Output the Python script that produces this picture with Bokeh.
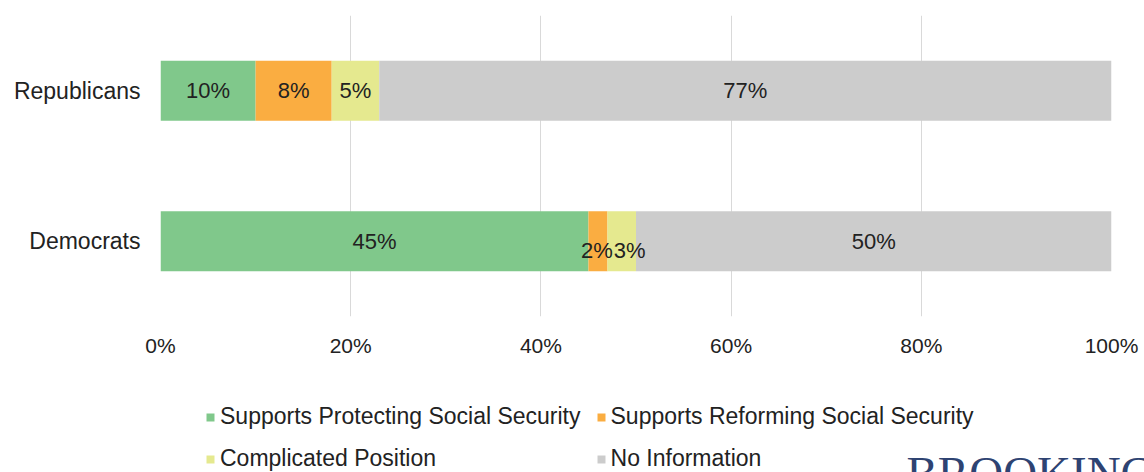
from bokeh.plotting import figure
from bokeh.models import ColumnDataSource, Legend, LegendItem, Label, FactorRange, FixedTicker, Range1d
from bokeh.layouts import column
from bokeh.core.properties import value
from bokeh.embed import file_html
from bokeh.resources import INLINE

groups = ["Democrats", "Republicans"]
series = ["Supports Protecting Social Security", "Supports Reforming Social Security",
          "Complicated Position", "No Information"]
keys = ["protect", "reform", "complicated", "noinfo"]
protect = [45, 10]
reform = [2, 8]
complicated = [3, 5]
noinfo = [50, 77]
colors = ["#80C88B", "#FAAD41", "#E5E98F", "#CCCCCC"]
x_ticks = [0, 20, 40, 60, 80, 100]

FONT = "Liberation Sans"
TXT = "#222222"
W = 1144

source = ColumnDataSource(dict(group=groups, protect=protect, reform=reform,
                               complicated=complicated, noinfo=noinfo))

# ---------------- main chart ----------------
p = figure(width=W, height=360, output_backend="svg", toolbar_location=None,
           y_range=FactorRange(factors=groups, range_padding=0),
           x_range=Range1d(0, 100),
           min_border_left=160, min_border_right=33, min_border_top=15, min_border_bottom=44)
p.outline_line_color = None
p.frame_align = False

p.hbar_stack(keys, y="group", height=0.4, color=colors, source=source, line_color=None)

# segment labels (centered on each segment)
lx, ly, lt, lyo, lxo = [], [], [], [], []
vals = [protect, reform, complicated, noinfo]
for gi, g in enumerate(groups):
    cum = 0
    prev_small = False
    for si in range(len(keys)):
        v = vals[si][gi]
        small = v < 4
        lx.append(cum + v / 2)
        ly.append(g)
        lt.append(f"{v}%")
        lyo.append(9 if small else 0)
        lxo.append(8 if (small and prev_small) else (-1 if small else 0))
        prev_small = small
        cum += v
lsrc = ColumnDataSource(dict(x=lx, y=ly, t=lt, yo=lyo, xo=lxo))
p.text(x="x", y="y", text="t", y_offset="yo", x_offset="xo", source=lsrc,
       text_align="center", text_baseline="middle", text_font=value(FONT),
       text_font_size="22px", text_color=TXT)

p.xaxis.ticker = FixedTicker(ticks=x_ticks)
p.xaxis.major_label_overrides = {t: f"{t}%" for t in x_ticks}
p.xaxis.axis_line_color = None
p.xaxis.major_tick_line_color = None
p.xaxis.minor_tick_line_color = None
p.xaxis.major_label_standoff = 11
p.xaxis.major_label_text_font = FONT
p.xaxis.major_label_text_font_size = "21px"
p.xaxis.major_label_text_color = TXT

p.yaxis.axis_line_color = None
p.yaxis.major_tick_line_color = None
p.yaxis.major_label_standoff = 14
p.yaxis.major_label_text_font = FONT
p.yaxis.major_label_text_font_size = "23px"
p.yaxis.major_label_text_color = TXT

p.xgrid.grid_line_color = "#D9D9D9"
p.xgrid.grid_line_width = 1
p.ygrid.grid_line_color = None

# ---------------- legend strip ----------------
p2 = figure(width=W, height=112, output_backend="svg", toolbar_location=None,
            y_range=FactorRange(factors=groups), x_range=Range1d(0, 100),
            x_axis_type=None, y_axis_type=None,
            min_border_left=0, min_border_right=0, min_border_top=0, min_border_bottom=0)
p2.outline_line_color = None
p2.frame_align = False
p2.xgrid.visible = False
p2.ygrid.visible = False
legend_renderers = p2.hbar_stack(keys, y="group", height=0.4, color=colors,
                                 source=source, line_color=None)
for r in legend_renderers:
    r.visible = False

legend = Legend(items=[LegendItem(label=s, renderers=[r]) for s, r in zip(series, legend_renderers)],
                location=(205, 0), ncols=2, orientation="horizontal",
                glyph_width=10, glyph_height=10, label_standoff=5, spacing=15,
                padding=0, margin=0, border_line_color=None, background_fill_alpha=0,
                label_text_font=FONT, label_text_font_size="23px", label_text_color=TXT,
                click_policy="none")
p2.add_layout(legend, "center")

brand = Label(x=906, y=26, x_units="screen", y_units="screen", text="BROOKINGS",
              text_font="Liberation Serif", text_font_size="47px", text_color="#2E4372",
              text_baseline="top")
p2.add_layout(brand)

open("out.html", "w").write(file_html(column(p, p2, spacing=0), INLINE))
